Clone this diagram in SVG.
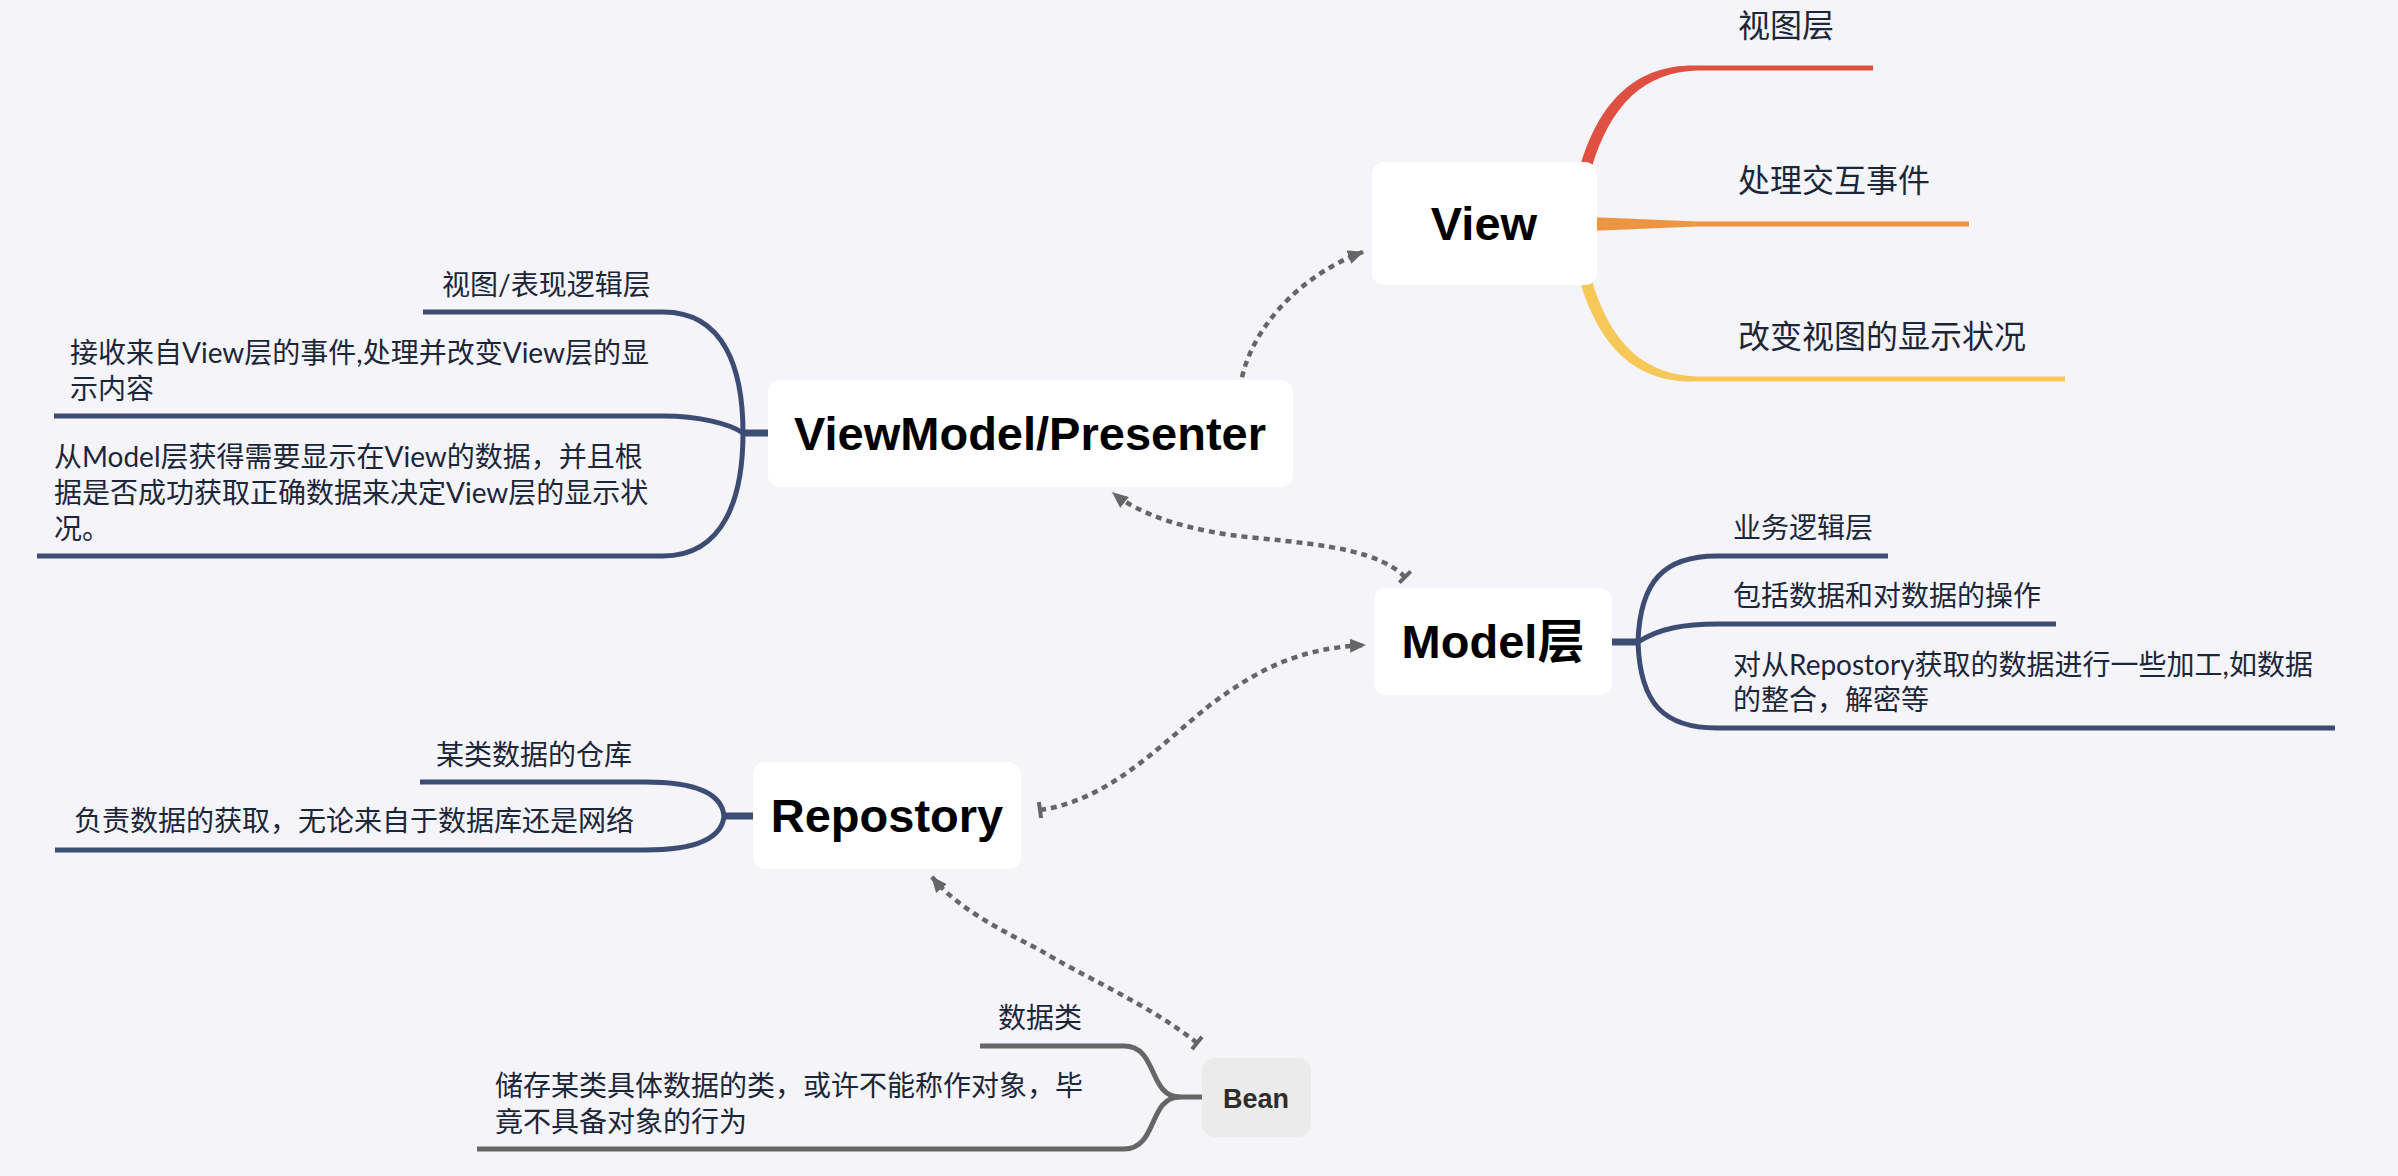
<svg xmlns="http://www.w3.org/2000/svg" width="2398" height="1176" viewBox="0 0 2398 1176">
<style>
.bg{fill:#f4f4f9}
.node{fill:#ffffff}
.main{font-family:"Liberation Sans","Noto Sans CJK SC",sans-serif;font-weight:bold;font-size:47px;fill:#000;text-anchor:middle}
.lbl{font-family:"Lato","Noto Sans CJK SC",sans-serif;font-size:28px;fill:#1c2639}
.vlbl{font-family:"Lato","Noto Sans CJK SC",sans-serif;font-size:32px;fill:#1c2639}
.navy{fill:none;stroke:#3c4c72;stroke-width:5}
.stub{fill:none;stroke:#3c4c72;stroke-width:7}
.gray{fill:none;stroke:#666666;stroke-width:5}
.rel{fill:none;stroke:#666666;stroke-width:4.5;stroke-dasharray:6 5;marker-end:url(#arrow);marker-start:url(#tee)}
</style>
<defs>
<marker id="arrow" markerUnits="userSpaceOnUse" viewBox="0 0 16 14" markerWidth="16" markerHeight="14" refX="15" refY="7" orient="auto">
<path d="M0,0 L16,7 L0,14 Z" fill="#666666"/>
</marker>
<marker id="tee" markerUnits="userSpaceOnUse" viewBox="-4 -9 8 18" markerWidth="8" markerHeight="18" refX="0" refY="0" orient="auto">
<path d="M0,-8 L0,8" stroke="#666666" stroke-width="4" fill="none"/>
</marker>
</defs>
<rect class="bg" x="0" y="0" width="2398" height="1176"/>

<g id="connectors">
<g id="branches-view">
<path d="M1579,170 C1600,96 1640,64 1697,65.5 L1697,70.5 C1645,72 1610,104 1591,170 Z" fill="#e05042"/>
<path d="M1697,68 L1873,68" fill="none" stroke="#e05042" stroke-width="5"/>
<path d="M1590,217 L1697,221.5 L1697,226.5 L1590,231 Z" fill="#ec9644"/>
<path d="M1697,224 L1969,224" fill="none" stroke="#ec9644" stroke-width="5"/>
<path d="M1579,278 C1600,352 1640,383.5 1697,381.5 L1697,376.5 C1645,375 1610,344 1591,278 Z" fill="#f5c858"/>
<path d="M1697,379 L2065,379" fill="none" stroke="#f5c858" stroke-width="5"/>
</g>
<g id="branches-viewmodel">
<path class="stub" d="M743,433 L770,433"/>
<path class="navy" d="M423,312 L663,312 C725,312 743,370 743,433"/>
<path class="navy" d="M54,416 L663,416 C700,416 730,424 743,433"/>
<path class="navy" d="M37,556 L663,556 C725,556 743,496 743,433"/>
</g>
<g id="branches-model">
<path class="stub" d="M1610,642 L1638,642"/>
<path class="navy" d="M1638,642 C1640,580 1665,556 1717,556 L1888,556"/>
<path class="navy" d="M1638,642 C1660,628 1685,624 1717,624 L2056,624"/>
<path class="navy" d="M1638,642 C1640,705 1665,728 1717,728 L2335,728"/>
</g>
<g id="branches-repostory">
<path class="stub" d="M724,816 L755,816"/>
<path class="navy" d="M420,782 L645,782 C700,782 722,795 724,816"/>
<path class="navy" d="M55,850 L645,850 C700,850 722,837 724,816"/>
</g>
<g id="branches-bean">
<path class="gray" d="M980,1046 L1124,1046 C1158,1046 1148,1097 1180,1097 L1204,1097"/>
<path class="gray" d="M477,1149 L1124,1149 C1158,1149 1148,1097 1180,1097"/>
</g>
<g id="relations">
<path class="rel" d="M1240,388 C1248,330 1300,275 1363,252"/>
<path class="rel" d="M1405,577 C1380,552 1330,545 1257,538 C1190,532 1140,515 1113,493"/>
<path class="rel" d="M1040,810 C1110,800 1160,745 1210,705 C1260,668 1300,648 1365,645"/>
<path class="rel" d="M1197,1043 C1150,1005 1080,975 1040,950 C990,925 955,905 932,877"/>
</g>
</g>

<g id="node-view">
<rect class="node" x="1372" y="162" width="225" height="123" rx="12"/>
<text class="main" x="1484" y="240">View</text>
</g>
<g id="node-viewmodel">
<rect class="node" x="768" y="380" width="525" height="107" rx="12"/>
<text class="main" x="1030" y="450">ViewModel/Presenter</text>
</g>
<g id="node-model">
<rect class="node" x="1374" y="588" width="238" height="107" rx="12"/>
<text class="main" x="1493" y="658">Model层</text>
</g>
<g id="node-repostory">
<rect class="node" x="753" y="762" width="268" height="107" rx="12"/>
<text class="main" x="887" y="832">Repostory</text>
</g>
<g id="node-bean">
<rect x="1202" y="1058" width="109" height="79" rx="13" fill="#ebebeb"/>
<text x="1256" y="1108" text-anchor="middle" font-family="Liberation Sans, sans-serif" font-size="27" font-weight="600" fill="#2d2d2d">Bean</text>
</g>

<g id="label-view-1"><text class="vlbl" x="1738" y="37">视图层</text></g>
<g id="label-view-2"><text class="vlbl" x="1738" y="192">处理交互事件</text></g>
<g id="label-view-3"><text class="vlbl" x="1738" y="348">改变视图的显示状况</text></g>

<g id="label-vm-1"><text class="lbl" x="442" y="295">视图/表现逻辑层</text></g>
<g id="label-vm-2"><text class="lbl" x="70" y="363">接收来自View层的事件,处理并改变View层的显</text><text class="lbl" x="70" y="399">示内容</text></g>
<g id="label-vm-3"><text class="lbl" x="54" y="467">从Model层获得需要显示在View的数据，并且根</text><text class="lbl" x="54" y="503">据是否成功获取正确数据来决定View层的显示状</text><text class="lbl" x="54" y="539">况。</text></g>

<g id="label-model-1"><text class="lbl" x="1733" y="538">业务逻辑层</text></g>
<g id="label-model-2"><text class="lbl" x="1733" y="606">包括数据和对数据的操作</text></g>
<g id="label-model-3"><text class="lbl" x="1733" y="675">对从Repostory获取的数据进行一些加工,如数据</text><text class="lbl" x="1733" y="710">的整合，解密等</text></g>

<g id="label-repo-1"><text class="lbl" x="436" y="765">某类数据的仓库</text></g>
<g id="label-repo-2"><text class="lbl" x="74" y="831">负责数据的获取，无论来自于数据库还是网络</text></g>

<g id="label-bean-1"><text class="lbl" x="998" y="1028">数据类</text></g>
<g id="label-bean-2"><text class="lbl" x="495" y="1096">储存某类具体数据的类，或许不能称作对象，毕</text><text class="lbl" x="495" y="1132">竟不具备对象的行为</text></g>
</svg>
